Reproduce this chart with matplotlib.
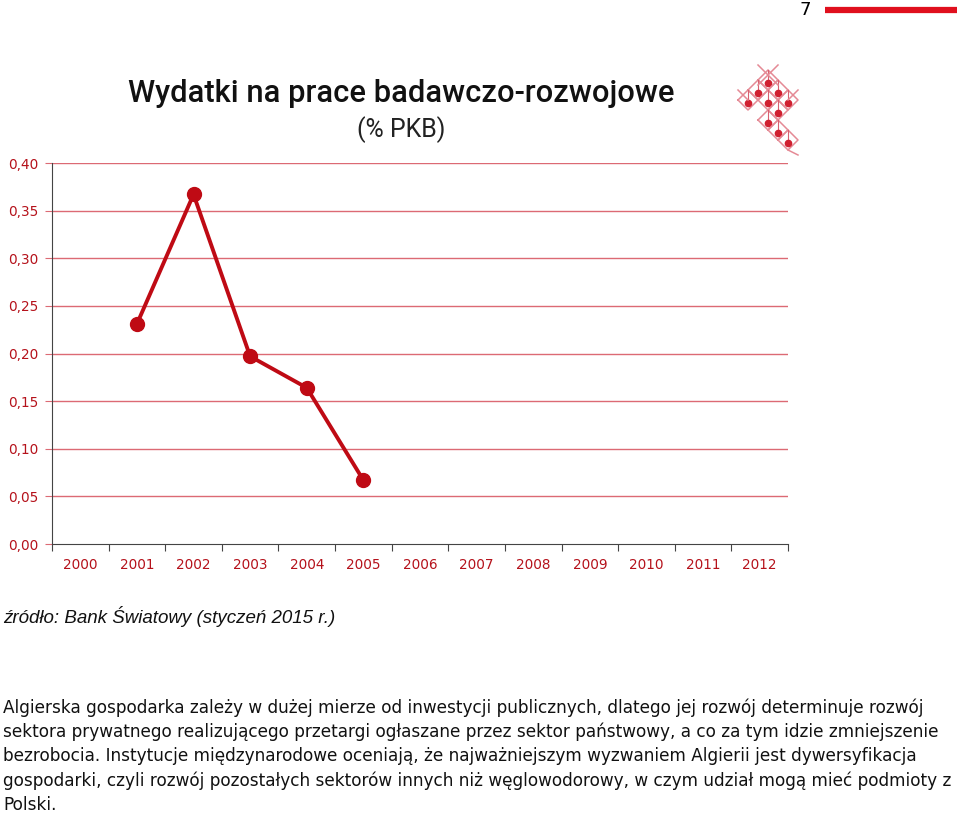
import numpy as np
import matplotlib
matplotlib.use("Agg")
import matplotlib.pyplot as plt

# data
years = ["2000", "2001", "2002", "2003", "2004", "2005", "2006",
         "2007", "2008", "2009", "2010", "2011", "2012"]
data_years = ["2001", "2002", "2003", "2004", "2005"]
rd_share = [0.231, 0.367, 0.197, 0.164, 0.067]   # % PKB
y_ticks = [0.00, 0.05, 0.10, 0.15, 0.20, 0.25, 0.30, 0.35, 0.40]

title = "Wydatki na prace badawczo-rozwojowe"
subtitle = "(% PKB)"
source = "źródło: Bank Światowy (styczeń 2015 r.)"
paragraph = [
    "Algierska gospodarka zależy w dużej mierze od inwestycji publicznych, dlatego jej rozwój determinuje rozwój",
    "sektora prywatnego realizującego przetargi ogłaszane przez sektor państwowy, a co za tym idzie zmniejszenie",
    "bezrobocia. Instytucje międzynarodowe oceniają, że najważniejszym wyzwaniem Algierii jest dywersyfikacja",
    "gospodarki, czyli rozwój pozostałych sektorów innych niż węglowodorowy, w czym udział mogą mieć podmioty z",
    "Polski.",
]

W, H = 960, 813
fig = plt.figure(figsize=(W / 100, H / 100), dpi=100)

red = "#bf0a14"
grid_red = "#dc6a74"
label_red = "#b5121b"

# main chart
ax = fig.add_axes([52 / W, 1 - 544 / H, 736 / W, 381 / H])
x = np.arange(len(years))
xd = [years.index(y) for y in data_years]
ax.plot(xd, rd_share, color=red, lw=2.8, marker="o", ms=10, zorder=3)
ax.set_xlim(-0.5, len(years) - 0.5)
ax.set_ylim(0, 0.40)
ax.set_yticks(y_ticks)
ax.set_yticklabels([f"{v:.2f}".replace(".", ",") for v in y_ticks],
                   color=label_red, fontsize=9.8, family="DejaVu Sans")
ax.set_xticks(x)
ax.set_xticklabels(years, color=label_red, fontsize=9.8, family="DejaVu Sans")
ax.set_xticks(np.arange(-0.5, len(years)), minor=True)
ax.tick_params(axis="x", which="major", length=0, pad=10)
ax.tick_params(axis="x", which="minor", length=5, color="#444444", width=0.8)
ax.tick_params(axis="y", length=5, color=grid_red, width=0.8, pad=5)
for v in y_ticks[1:]:
    ax.axhline(v, color=grid_red, lw=1.0, zorder=1)
for s in ["top", "right"]:
    ax.spines[s].set_visible(False)
ax.spines["left"].set_color("#444444")
ax.spines["bottom"].set_color("#444444")
ax.spines["left"].set_linewidth(0.8)
ax.spines["bottom"].set_linewidth(0.8)

# overlay for page text and decorations (pixel coords)
ov = fig.add_axes([0, 0, 1, 1], zorder=-1)
ov.set_xlim(0, W)
ov.set_ylim(H, 0)
ov.axis("off")

ov.text(401, 93, title, ha="center", va="center", fontsize=22.2,
        family="Roboto", fontweight="medium", color="#111111")
ov.text(401, 130, subtitle, ha="center", va="center", fontsize=18,
        family="Roboto", color="#222222")

# page number and red bar
ov.text(805, 10, "7", ha="center", va="center", fontsize=13, family="DejaVu Sans")
ov.plot([825, 957], [10, 10], color="#e0101e", lw=4.5, solid_capstyle="butt")

# logo: diamond lattice with dots
dots = [(768, 83), (758, 93), (778, 93), (748, 103), (768, 103), (788, 103),
        (778, 113), (768, 123), (778, 133), (788, 143)]
for dx, dy in dots:
    cy = dy - 3
    ov.plot([dx - 10, dx, dx + 10, dx, dx - 10],
            [cy, cy - 10, cy, cy + 10, cy], color="#e58a95", lw=1.1)
    ov.plot([dx, dx], [dy, cy - 10], color="#d86070", lw=0.8)
    ov.plot(dx, dy, "o", color="#d02030", ms=4.5)
ov.plot([758, 778], [65, 85], color="#e58a95", lw=1.1)
ov.plot([778, 758], [65, 85], color="#e58a95", lw=1.1)
ov.plot([738, 748], [90, 100], color="#e58a95", lw=1.1)
ov.plot([798, 788], [90, 100], color="#e58a95", lw=1.1)
ov.plot([788, 798], [150, 155], color="#e58a95", lw=1.1)

# source line
ov.text(3, 616, source, ha="left", va="center", fontsize=13.5,
        family="Liberation Sans", style="italic", color="#111111")

# body text
for i, line in enumerate(paragraph):
    ov.text(3, 708 + 24.2 * i, line, ha="left", va="center", fontsize=12.15,
            family="DejaVu Sans", color="#111111")

fig.savefig("out.png", dpi=100)
